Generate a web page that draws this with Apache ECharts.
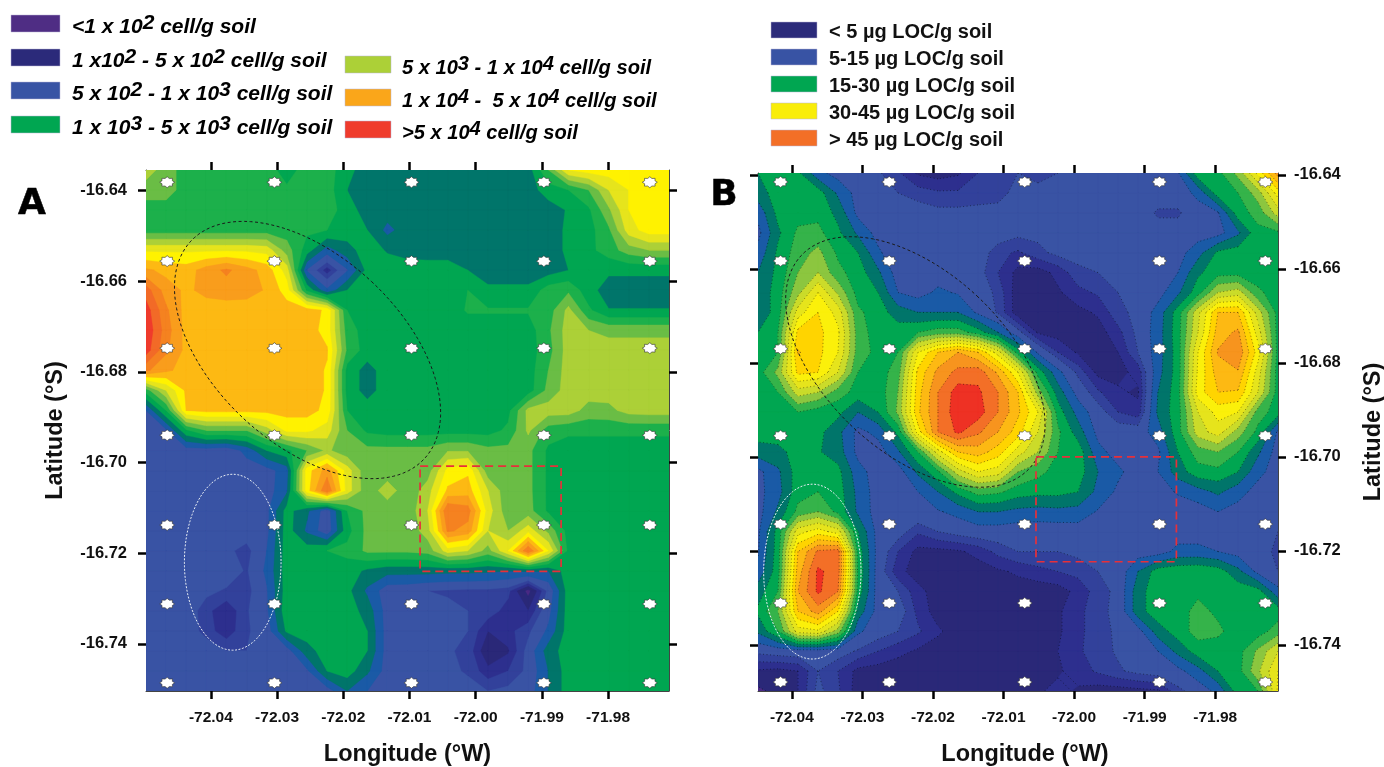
<!DOCTYPE html>
<html><head><meta charset="utf-8">
<style>html,body{margin:0;padding:0;background:#fff}#c{width:1384px;height:767px}</style>
<script src="https://cdn.jsdelivr.net/npm/echarts@6/dist/echarts.min.js"></script>
</head><body><div id="c"></div>
<script>
// Contour class boundaries shared by both maps (ordinal shade index)
const bandStarts = [-99,1,1.8,2.4,3,4,5,6,7,8,9,10,11,12,13,14,15,16];
const bandColorsA = ['#4a2a85','#2a2878','#2d2f8e','#32419b','#3953a4','#1a5aa6','#00756a','#00a651','#1cb04b','#6abd45','#acd037','#e6e41c','#fff200','#fdb913','#f99d1c','#f58220','#f26a27','#ef3b2c'];
const bandColorsB = ['#4a2a85','#2a2878','#2d2f8e','#32419b','#3953a4','#1a5aa6','#00756a','#00a651','#35b34a','#8cc63f','#cbdb2a','#e6e41c','#fbf00a','#ffd400','#fdb913','#f7941e','#f36f27','#ee3124'];

// Panel A: shade read on a 27 x 27 lattice, north to south, west to east
const shadeA = [
[9.5,8.5,7.5,7.5,7.5,7.5,7.5,6.5,7.5,7.5,6.3,5.5,5.5,5.5,5.5,5.5,5.5,5.5,5.5,5.5,8,11,11.5,11.5,11.5,11.5,11.5],
[8.5,8.5,7.5,7.5,7.5,7.5,7.5,7.2,7.5,7.5,6,5.5,5.5,5.5,5.5,5.5,5.5,5.5,5.5,5.5,6.5,7,8,10,11,11.5,11.5],
[7.5,7.5,7.5,7.5,7.5,7.5,7.5,7.5,7.5,7.5,6.5,5.5,5.5,5.5,5.5,5.5,5.5,5.5,5.5,5.5,5.5,6.1,6.8,8.8,11,11.5,11.5],
[7.5,7.5,7.5,7.5,7.5,7.5,7.5,7.5,7.2,7,6.5,6,4.7,5.5,5.5,5.5,5.5,5.5,5.5,5.5,5.5,6.2,6.6,7.8,10.5,11.5,11.5],
[10.8,10.8,10.8,10.8,10.8,10.8,10.6,8.5,6.5,4.5,5.6,6.5,5.9,5.5,5.5,5.5,5.5,5.5,5.5,5.5,5.5,6.2,6.7,7.5,8.5,9,9],
[13.2,12.7,12.5,13.5,14.2,13.4,12.6,10.5,3.9,2,3.9,6.3,6.5,6.6,6.5,6.5,6,5.5,5.5,5.5,5.5,6,6.2,6.2,6.2,6.2,6.2],
[15.5,13.5,12.8,13.3,13.5,13.4,12.9,11.5,6.8,4.2,6,6.5,6.5,6.5,6.5,6.5,7,6.2,6.2,6.2,7.5,7.8,6.4,5.5,5.5,5.5,5.5],
[16.5,14.2,12.6,12.5,12.5,12.5,12.5,12.5,12.5,11.8,7,6.5,6.5,6.5,6.5,6.5,7.1,7.1,7.1,7.1,7.5,9.3,7.2,6.05,6.05,6.05,6.05],
[16.8,14.5,12.6,12.5,12.5,12.5,12.5,12.5,12.5,11.6,7.5,6.5,6.5,6.5,6.5,6.5,6.5,6.5,6.5,6.5,7.8,9.5,9,8.7,8.7,8.7,8.7],
[16.5,14.2,12.7,12.5,12.5,12.5,12.5,12.5,12.5,12.1,7.8,6.5,6.5,6.5,6.5,6.5,6.5,6.5,6.5,6.5,7.6,9.5,9.5,9.5,9.5,9.5,9.5],
[14.2,13.2,12.6,12.5,12.5,12.5,12.5,12.5,12.5,11.9,6.6,5.6,6.5,6.5,6.5,6.5,6.5,6.5,6.5,6.5,8,9.5,9.5,9.5,9.5,9.5,9.5],
[7.5,10,12.2,12.5,12.5,12.5,12.5,12.5,12.5,11.9,6.6,5.6,6.5,6.5,6.5,6.5,6.5,6.5,6.5,6.5,8.3,9.5,9.5,9.5,9.5,9.5,9.5],
[4,7,12,12.3,12.3,12.3,12.3,12.4,12.4,11.7,7,6.5,6.5,6.5,6.5,6.5,6.5,6.5,6.7,9.3,9.5,9.5,8.6,8.7,9.4,9.5,9.5],
[3.5,3.8,6.8,8,8,8,9.5,11.2,11.2,10.5,8,6.8,6.6,6.6,6.6,6.6,6.6,6.6,7.2,9.2,7.5,7.2,7.2,7.2,7.2,7.2,7.2],
[3.5,3.5,3.5,3.5,3.3,4.3,6,6.7,8,9.2,8.3,8.3,8.3,8.3,8.3,8.9,8.9,8.3,8.3,8.3,6.8,6.5,6.5,6.5,6.5,6.5,6.5],
[3.5,3.5,3.5,3.5,3.5,3.5,3.6,4.5,11.5,13.5,10.5,8.2,8.3,8.3,8.5,11.3,11.8,8.4,8.3,8.3,6.8,6.5,6.5,6.5,6.5,6.5,6.5],
[3.5,3.5,3.5,3.5,3.5,3.5,3.5,4.8,11.5,15,10.5,8.3,9.6,8.3,9.5,12.2,12.5,10,8.3,8.3,6.8,6.5,6.5,6.5,6.5,6.5,6.5],
[3.5,3.5,3.5,3.5,3.5,3.5,3.7,6.4,5.2,3.4,7,8.3,8.3,8.3,10,15,14.5,10.5,8.3,8.4,6.8,6.5,6.5,6.5,6.5,6.5,6.5],
[3.5,3.5,3.5,3.5,3.5,3.5,3.7,6.5,4.8,3.3,6.6,8.3,8.3,8.3,9.5,14.2,13.6,10,9,10.6,8.7,6.6,6.5,6.5,6.5,6.5,6.5],
[3.5,3.5,3.5,3.5,3.2,2.7,4,6.5,6.5,7,7.3,8.2,8.2,8.2,8.4,10.5,10,8.6,11,15,11,6.7,6.5,6.5,6.5,6.5,6.5],
[3.5,3.5,3.5,3.5,3.5,2.9,4.2,6.5,6.5,6.6,6.5,5.8,5.4,5.4,5.4,5.3,5.3,5.2,5,5.2,5,6.6,6.5,6.5,6.5,6.5,6.5],
[3.5,3.5,3.5,3.2,2.9,2.7,3.9,6.5,6.5,6.5,6.3,4.8,3.4,3.3,3,2.9,2.8,2.8,2.6,0.7,3.2,6.5,6.5,6.5,6.5,6.5,6.5],
[3.5,3.5,3.5,2.6,1.9,2.9,3.8,6.7,6.5,6.5,6.5,5.6,3.5,3.3,3.3,3.2,3,2.8,2.1,1.8,3.6,6.5,6.5,6.5,6.5,6.5,6.5],
[3.5,3.5,3.5,2.7,2,2.9,3.4,6.2,6.5,6.5,6.5,6,3.5,3.4,3.3,3.1,3,1.8,2.2,2.8,4.2,6.5,6.5,6.5,6.5,6.5,6.5],
[3.5,3.5,3.5,3.5,3,3,3.2,3.5,5.6,6.5,6.5,6,3.5,3.4,3.3,3.1,2.8,1.2,1.7,3.3,5.5,6.5,6.5,6.5,6.5,6.5,6.5],
[3.5,3.5,3.5,3.5,3.5,3.5,3.5,3.5,3.8,6,6.5,5.2,3.5,3.4,3.3,3.2,2.9,2,2.4,3.2,5,6.5,6.5,6.5,6.5,6.5,6.5],
[3.5,3.5,3.5,3.5,3.5,3.5,3.5,3.5,3.5,3.5,5,4,3.5,3.5,3.5,3.5,3.3,3,3.2,3.5,5,6.5,6.5,6.5,6.5,6.5,6.5]
];

// Panel B: same lattice idea for the LOC map
const shadeB = [
[6,6.5,6.2,4.3,3.6,3.5,3.1,2.5,1.7,1.5,1.7,2.4,2.9,3,2.8,3,3.5,3.6,3.6,3.6,3.5,3.9,6.6,6.7,8.3,11.3,14.5],
[5.5,6.5,6.5,6.5,4.8,3.6,3.4,3,2.7,2.5,2.5,2.7,2.9,3.1,3.2,3.5,3.6,3.8,3.6,3.6,3.4,3.4,4.3,6.5,7,8.5,11.5],
[4.3,6.3,6.6,6.7,5.7,3.7,3.5,3.5,3.4,3.2,3.2,3.2,3.1,3.2,3.3,3.5,3.6,3.8,3.6,3.4,2.9,2.9,3.5,3.9,6.5,7.4,9.5],
[3.7,5.8,7.2,7.3,6.2,4.8,3.6,3.5,3.6,3.7,3.7,3.7,3.5,3.2,3.2,3.5,3.6,3.5,3.4,3.2,3.3,3.3,3.5,3.6,4.8,6.7,6.8],
[4.3,6.2,7.5,8.3,6.8,6,4.2,3.2,3.6,3.7,3.7,3.5,2.6,2.3,2.8,3.2,3.3,3.4,3.4,3.4,3.4,3.6,4.6,6.2,6.5,6.5,6.5],
[5,6.3,8,9,7.3,6.5,5.2,3.5,3.6,3.5,3.3,3.3,2.4,1.6,1.5,2,2.8,3,3.3,3.5,3.5,4,5.8,6.6,6.6,6.5,6.5],
[5.2,6.5,8.7,11,8.8,6.6,6,4,3.6,4.2,3.9,3.5,2.8,1.4,1.3,1.7,2.2,2.5,3,3.4,3.6,4.8,6.6,9,9.5,7.2,6.5],
[5.2,6.5,10.5,12,10.6,7.2,6.5,5.5,5,5,5,3.8,2.9,1.4,1.1,1.1,1.6,1.9,2.8,3.2,4.4,6.5,9.7,13,13,9.5,6.6],
[6,7,12.3,12.3,11.2,7.5,6.5,6.5,7,7.5,7.5,6.5,5,3.3,1.7,1.5,1.5,1.5,2.2,3.2,4.5,6.6,10,13.5,14.2,10.5,6.6],
[6.3,7,13.1,12.3,11,7.5,6.7,7,11,13,14,13,10.5,6.5,3.8,2.4,1.7,1.5,1.8,3,4.5,6.5,11,14.1,14.8,11.5,6.6],
[6.5,8.3,12.3,12,10,7,6.5,7.5,12.3,14.3,15.3,15.6,13.8,11,6.6,4.3,2.8,1.6,1.6,2,4.6,6.5,11.2,13.5,13.9,10.5,6.5],
[6.5,7,9.5,9,7.5,6.6,6.4,8,12.6,15,16.5,16.2,15,13,8.5,5.5,3.6,2.5,1.9,1.7,5,6.6,11.5,13,12.9,10,6.5],
[6.5,6.5,7,6.5,6.3,5,6,8.2,12.8,15,16.7,16.5,15,13.2,11,6.5,4.6,3.4,2.4,2,5.2,6.6,10,11.4,11,7.5,6.5],
[6.5,6.5,6.5,6.3,5.3,3.7,4.3,6.3,11.5,15,16.2,15.2,14,12.5,10,7.2,5.5,3.7,3.5,3.5,4.5,6.6,9.5,10.5,8.5,6.7,3.8],
[5.5,5.7,6.4,6.1,5.5,3.7,3.5,4.8,7,10.5,13,13.5,12.5,10.5,9,7,6.6,4.3,3.6,3.5,3.8,6,7.5,8,7,5.2,3.5],
[3.7,4.8,6.5,6.5,6.3,4.4,3.5,3.5,5.2,6.8,9.5,11,10.5,8,7.3,6.6,6.5,5,4.2,3.5,4,5.5,6.6,6.7,6,4.3,3.5],
[3.7,4.6,6.6,7,6.5,4.7,3.5,3.6,4,5,6.3,7.4,7.2,6.5,6.3,6.3,6,4.7,3.8,3.5,3.6,4.1,4.6,5.2,4.4,3.6,3.5],
[3.6,5.2,7.3,8,6.7,4.8,3.5,3.5,3.7,3.9,4.3,5,5,4.7,4.6,4.7,4.6,3.9,3.5,3.6,3.7,3.5,3.5,4,3.6,3.6,3.5],
[3.8,6.4,10.6,11.5,10.5,6,3.6,3.4,2.5,3,3.3,3.5,3.5,3.4,3.4,3.4,3.5,3.5,3.6,3.6,3.6,3.5,3.5,3.9,3.6,3.5,3],
[3.9,6.5,13,15.2,15.5,6.6,3.6,2.4,1.6,1.6,1.7,2,2.6,3,3,3,3.2,3.3,3.3,3.5,3.5,4.3,4.3,4,3.6,3.4,2.8],
[4.3,6.6,13.5,16.2,15.5,6.8,3.5,2,1.5,1.4,1.4,1.5,1.7,1.9,2.2,2.4,2.6,3,3.3,5,6.5,6.7,6.8,6.5,5.3,3.7,3],
[5.5,7,14,16.2,15,6.6,3.5,3,2,1.5,1.4,1.4,1.4,1.5,1.4,1.5,2,2.7,3.2,5.6,6.6,6.7,6.8,6.7,6.6,6.4,4.3],
[6.2,8,13,14.5,12,5.6,3.6,3.5,2.2,1.5,1.4,1.4,1.4,1.5,1.3,1.7,2.2,2.8,3.2,5.6,6.6,6.6,7.3,6.8,6.5,6.5,6.5],
[5.2,7,10.5,10.8,8.5,4.2,3.4,3,2.5,1.9,1.5,1.4,1.4,1.6,1.3,1.7,2.2,2.8,3.1,3.6,5.5,6.5,7.4,7.2,6.5,6.5,7.5],
[3.2,3.4,3.5,3.5,3.4,2.9,2.4,2,1.7,1.5,1.4,1.4,1.4,1.5,1.4,1.8,2.3,2.7,3.1,3.5,4,5.3,6.5,6.5,6.6,8.2,10],
[1.7,1.6,1.8,3,2.4,1.6,1.5,1.4,1.4,1.4,1.4,1.4,1.4,1.4,1.5,1.7,2.1,2.5,2.9,3.2,3.4,3.7,4.6,6,6.6,8.8,11],
[0.8,1.3,1.8,3.2,2.5,1.5,1.4,1.4,1.4,1.2,1.2,1.3,1.3,1.4,1.7,2,1.7,1.5,1.5,1.6,1.7,2.8,3.4,4.3,6.5,7,11.2]
];

// Sampling stations
const stationLonA = [-72.0466,-72.0304,-72.0097,-71.9897,-71.9737];
const stationLatA = [-16.6382,-16.6556,-16.6748,-16.6940,-16.7138,-16.7312,-16.7486];
const stationLonB = [-72.0416,-72.0262,-72.0070,-71.9879,-71.9729];
const stationLatB = [-16.6415,-16.6583,-16.6770,-16.6955,-16.7143,-16.7311,-16.7479];

// Axis ticks
const lonTicks = [-72.04,-72.03,-72.02,-72.01,-72.00,-71.99,-71.98];
const latTicks = [-16.64,-16.66,-16.68,-16.70,-16.72,-16.74];

// Legends
const legendA1 = [['<1 x 10','2',' cell/g soil'],['1 x10','2',' - 5 x 10','2',' cell/g soil'],['5 x 10','2',' - 1 x 10','3',' cell/g soil'],['1 x 10','3',' - 5 x 10','3',' cell/g soil']];
const legendA1Colors = ['#4f2d84','#2b2a7a','#3853a4','#00a651'];
const legendA2 = [['5 x 10','3',' - 1 x 10','4',' cell/g soil'],['1 x 10','4',' -  5 x 10','4',' cell/g soil'],['>5 x 10','4',' cell/g soil']];
const legendA2Colors = ['#acd037','#faa61a','#ef3b2d'];
const legendB = ['< 5 µg LOC/g soil','5-15 µg LOC/g soil','15-30 µg LOC/g soil','30-45 µg LOC/g soil','> 45 µg LOC/g soil'];
const legendBColors = ['#2b2a7a','#3853a4','#00a651','#f9ed0a','#f36f27'];

const panels = [
 {shade:shadeA,colors:bandColorsA,lon:[-72.0498,-71.9708],lat:[-16.7504,-16.6355],left:146,top:170,w:523,h:521,
  stLon:stationLonA,stLat:stationLatA,dotted:false,labelSide:'left',
  rect:[-72.0084,-71.9871,-16.7008,-16.7240],
  black:{c:[-72.0254,-16.6752],minor:0.01416,major:0.0352,rot:-47},
  white:{c:[-72.0367,-16.7220],minor:0.0073,major:0.0194,rot:0}},
 {shade:shadeB,colors:bandColorsB,lon:[-72.0448,-71.9711],lat:[-16.7498,-16.6396],left:758,top:173,w:520,h:518,
  stLon:stationLonB,stLat:stationLatB,dotted:true,labelSide:'right',
  rect:[-72.0054,-71.9855,-16.7000,-16.7223],
  black:{c:[-72.0225,-16.6798],minor:0.0128,major:0.0332,rot:-47},
  white:{c:[-72.0371,-16.7244],minor:0.0069,major:0.0186,rot:0}}
];

[...shadeA,...shadeB].forEach((r,i)=>{ if(r.length!==27) throw new Error('row '+i+' has '+r.length); });

function nodeCoord(p,api,i,j){
  const n=p.shade.length-1;
  return api.coord([p.lon[0]+(p.lon[1]-p.lon[0])*i/n, p.lat[1]-(p.lat[1]-p.lat[0])*j/n]);
}
function cellCorners(p,api,i,j){
  return [[i,j],[i+1,j],[i+1,j+1],[i,j+1]].map(c=>({v:p.shade[c[1]][c[0]],xy:nodeCoord(p,api,c[0],c[1])}));
}
function bandPath(p,api,t){
  let d='';const n=p.shade.length-1;
  for(let j=0;j<n;j++)for(let i=0;i<n;i++){
    const c=cellCorners(p,api,i,j),pts=[];
    for(let k=0;k<4;k++){
      const a=c[k],b=c[(k+1)%4];
      if(a.v>=t)pts.push(a.xy);
      if((a.v>=t)!==(b.v>=t)){const f=(t-a.v)/(b.v-a.v);pts.push([a.xy[0]+(b.xy[0]-a.xy[0])*f,a.xy[1]+(b.xy[1]-a.xy[1])*f]);}
    }
    if(pts.length>2)d+='M'+pts.map(q=>q[0].toFixed(2)+' '+q[1].toFixed(2)).join('L')+'Z';
  }
  return d;
}
function isoPath(p,api,t){
  let d='';const n=p.shade.length-1;
  for(let j=0;j<n;j++)for(let i=0;i<n;i++){
    const c=cellCorners(p,api,i,j),pts=[];
    for(let k=0;k<4;k++){
      const a=c[k],b=c[(k+1)%4];
      if((a.v>=t)!==(b.v>=t)){const f=(t-a.v)/(b.v-a.v);pts.push([a.xy[0]+(b.xy[0]-a.xy[0])*f,a.xy[1]+(b.xy[1]-a.xy[1])*f]);}
    }
    for(let m=0;m+1<pts.length;m+=2)d+='M'+pts[m][0].toFixed(2)+' '+pts[m][1].toFixed(2)+'L'+pts[m+1][0].toFixed(2)+' '+pts[m+1][1].toFixed(2);
  }
  return d;
}
function ellipsePoints(api,e){
  const c=api.coord(e.c),a=api.size([e.minor,0])[0],b=api.size([0,e.major])[1],r=e.rot*Math.PI/180,pts=[];
  for(let k=0;k<=120;k++){
    const s=k/120*2*Math.PI,x=a*Math.cos(s),y=b*Math.sin(s);
    pts.push([c[0]+x*Math.cos(r)-y*Math.sin(r),c[1]+x*Math.sin(r)+y*Math.cos(r)]);
  }
  return pts;
}
const starPath=(()=>{let s='path://';for(let k=0;k<16;k++){const r=k%2?0.74:1,g=k*Math.PI/8;s+=(k?'L':'M')+(r*Math.cos(g)*10).toFixed(2)+' '+(r*Math.sin(g)*10).toFixed(2);}return s+'Z';})();

const grids=[],xAxes=[],yAxes=[],series=[];
const tickFontX={fontFamily:'Liberation Sans',fontWeight:'bold',fontSize:15.5,color:'#111'};
const tickFontY={fontFamily:'Liberation Sans',fontWeight:'bold',fontSize:16.5,color:'#111'};
const nameFont={fontFamily:'Liberation Sans',fontWeight:'bold',fontSize:23.5,color:'#111'};
const axisLine={show:true,onZero:false,lineStyle:{color:'#444',width:1}};
const tick=(vals)=>({show:true,length:8,inside:false,customValues:vals,lineStyle:{color:'#000',width:2.5}});

panels.forEach((p,idx)=>{
  grids.push({left:p.left,top:p.top,width:p.w,height:p.h,containLabel:false,outerBoundsMode:'none'});
  const base=idx*2;
  xAxes.push({gridIndex:idx,type:'value',position:'bottom',min:p.lon[0],max:p.lon[1],splitLine:{show:false},axisLine,axisTick:tick(lonTicks),
    axisLabel:{...tickFontX,margin:19,customValues:lonTicks,formatter:v=>v.toFixed(2)},
    name:'Longitude (°W)',nameLocation:'middle',nameGap:52,nameTextStyle:{...nameFont,padding:idx?[0,0,0,14]:0}});
  xAxes.push({gridIndex:idx,type:'value',position:'top',min:p.lon[0],max:p.lon[1],splitLine:{show:false},axisLine,axisTick:tick(lonTicks),axisLabel:{show:false}});
  const latLabelled=(side)=>side===p.labelSide?
    {axisLabel:{...tickFontY,margin:idx?16:19,customValues:latTicks,formatter:v=>v.toFixed(2)},name:'Latitude (°S)',nameLocation:'middle',nameGap:idx?84:78,nameTextStyle:nameFont}:
    {axisLabel:{show:false}};
  yAxes.push({gridIndex:idx,type:'value',position:'left',min:p.lat[0],max:p.lat[1],splitLine:{show:false},axisLine,axisTick:tick(latTicks),...latLabelled('left')});
  yAxes.push({gridIndex:idx,type:'value',position:'right',min:p.lat[0],max:p.lat[1],splitLine:{show:false},axisLine,axisTick:tick(latTicks),...latLabelled('right')});

  const onAxes={xAxisIndex:base,yAxisIndex:base};
  // filled bands
  series.push({type:'custom',...onAxes,coordinateSystem:'cartesian2d',silent:true,clip:true,z:2,
    data:bandStarts.map((t,i)=>[i]),encode:{x:-1,y:-1},
    renderItem:(par,api)=>{
      const i=par.dataIndex;
      return {type:'path',shape:{pathData:bandPath(p,api,bandStarts[i])||'M0 0'},style:{fill:p.colors[i],stroke:p.colors[i],lineWidth:0.4}};
    }});
  if(p.dotted){
    series.push({type:'custom',...onAxes,coordinateSystem:'cartesian2d',silent:true,clip:true,z:3,
      data:bandStarts.slice(1).map((t,i)=>[i]),encode:{x:-1,y:-1},
      renderItem:(par,api)=>({type:'path',shape:{pathData:isoPath(p,api,bandStarts[par.dataIndex+1])||'M0 0'},
        style:{fill:'none',stroke:'rgba(0,0,0,0.5)',lineWidth:0.9,lineDash:[1,2.5]}})});
  }
  // annotation ellipses and rectangle
  series.push({type:'custom',...onAxes,coordinateSystem:'cartesian2d',silent:true,clip:true,z:4,
    data:[[0],[1],[2]],encode:{x:-1,y:-1},
    renderItem:(par,api)=>{
      if(par.dataIndex===2){
        const a=api.coord([p.rect[0],p.rect[2]]),b=api.coord([p.rect[1],p.rect[3]]);
        return {type:'rect',shape:{x:a[0],y:a[1],width:b[0]-a[0],height:b[1]-a[1]},style:{fill:'none',stroke:'#e6303a',lineWidth:1.7,lineDash:[8,5]}};
      }
      const e=par.dataIndex===0?p.black:p.white;
      return {type:'polyline',shape:{points:ellipsePoints(api,e)},style:{fill:'none',stroke:par.dataIndex===0?'#1a1a1a':'#e8eef5',lineWidth:1,lineDash:par.dataIndex===0?[3,2.5]:[2,1.5]}};
    }});
  // stations
  const st=[];p.stLat.forEach(la=>p.stLon.forEach(lo=>st.push([lo,la])));
  series.push({type:'scatter',...onAxes,coordinateSystem:'cartesian2d',silent:true,z:5,data:st,symbol:starPath,symbolSize:[15,11],
    itemStyle:{color:'#fff',borderColor:'#333',borderWidth:0.6,opacity:1}});
});

// legend and panel letters as library graphics
const graphic=[];
function richFor(size){return {n:{fontFamily:'Liberation Sans',fontWeight:'bold',fontStyle:'italic',fontSize:size,color:'#111'},
  s:{fontFamily:'Liberation Sans',fontWeight:'bold',fontStyle:'italic',fontSize:size,color:'#111',padding:[0,0,9,0]}};}
function richText(parts){return parts.map((t,i)=>'{'+(i%2?'s':'n')+'|'+t+'}').join('');}
function addLegendA(labels,cols,rx,rw,tx,tops,size){
  labels.forEach((parts,i)=>{
    graphic.push({type:'rect',shape:{x:rx,y:tops[i],width:rw,height:17},style:{fill:cols[i],stroke:'#b9b6d6',lineWidth:0.5}});
    graphic.push({type:'text',x:tx,y:tops[i]+12.5,style:{text:richText(parts),rich:richFor(size),verticalAlign:'middle',align:'left'}});
  });
}
addLegendA(legendA1,legendA1Colors,11,49,72,[15,49,82,116],21);
addLegendA(legendA2,legendA2Colors,345,46,402,[56,89,121],20.1);
legendB.forEach((t,i)=>{
  const y=22+i*27;
  graphic.push({type:'rect',shape:{x:771,y,width:46,height:16},style:{fill:legendBColors[i],stroke:'#b9b6d6',lineWidth:0.5}});
  graphic.push({type:'text',x:829,y:y+10,style:{text:t,fontFamily:'Liberation Sans',fontWeight:'bold',fontSize:20,fill:'#111',verticalAlign:'middle',align:'left'}});
});
[['A',32,205],['B',724,196]].forEach(l=>graphic.push({type:'text',x:l[1],y:l[2],z:10,style:{text:l[0],fontFamily:'DejaVu Sans',fontWeight:'bold',fontSize:36,fill:'#000',stroke:'#000',lineWidth:0.5,align:'center',verticalAlign:'middle'}}));

const chart=echarts.init(document.getElementById('c'),null,{renderer:'canvas'});
chart.setOption({animation:false,backgroundColor:'#fff',grid:grids,xAxis:xAxes,yAxis:yAxes,series,graphic:{elements:graphic}});
</script></body></html>
